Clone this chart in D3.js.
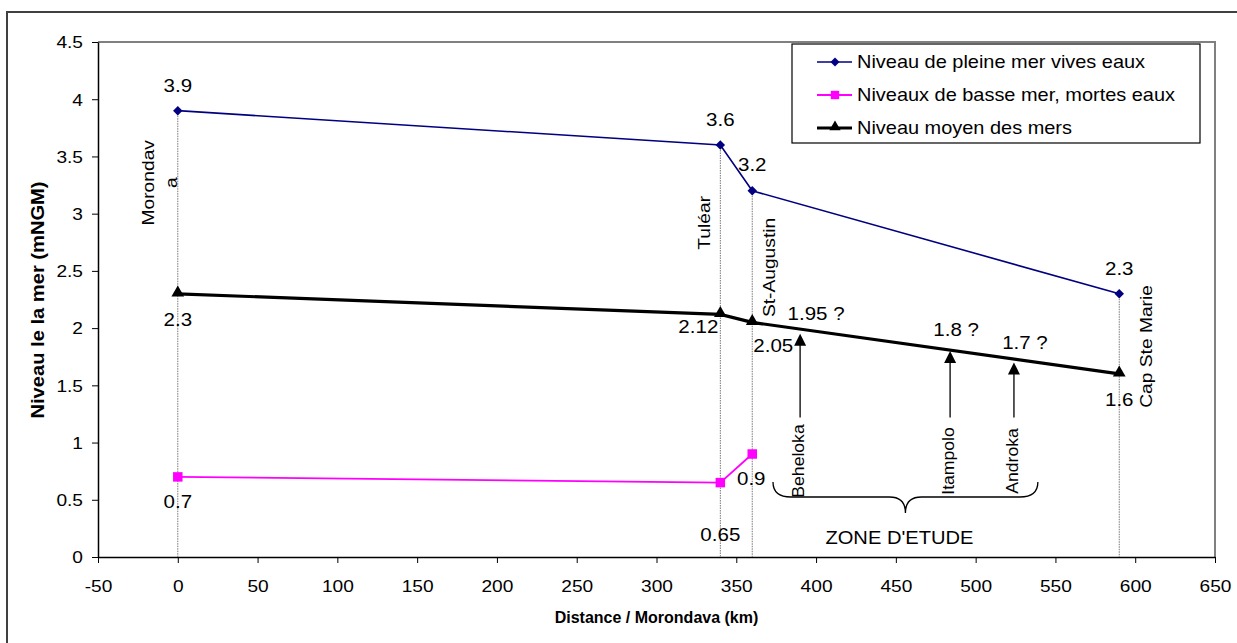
<!DOCTYPE html>
<html>
<head>
<meta charset="utf-8">
<script src="https://cdn.jsdelivr.net/npm/d3@7"></script>
<style>
  body { margin: 0; background: #fff; }
  svg { display: block; }
  text { font-family: "Liberation Sans", Arial, sans-serif; fill: #000; }
</style>
</head>
<body>
<svg id="chart" width="1237" height="643"></svg>
<script>
// Stations along the coast (distance from Morondava, km)
const siteKm = [0, 340, 360, 590];
const siteNames = [["Morondav", "a"], ["Tuléar"], ["St-Augustin"], ["Cap Ste Marie"]];

// Water levels (m NGM)
const pleineMer = [3.9, 3.6, 3.2, 2.3];          // high water, spring tides
const basseKm = [0, 340, 360];
const basseMer = [0.7, 0.65, 0.9];               // low water, neap tides
const niveauMoyen = [2.3, 2.12, 2.05, 1.6];      // mean sea level

// Study-zone sites and their estimated mean level
const zoneSites = ["Beheloka", "Itampolo", "Androka"];
const zoneKm = [390, 484, 524];
const zoneNiveau = [1.95, 1.8, 1.7];
const zoneNiveauText = ["1.95 ?", "1.8 ?", "1.7 ?"];

const seriesNames = [
  "Niveau de pleine mer vives eaux",
  "Niveaux de basse mer, mortes eaux",
  "Niveau moyen des mers"
];

const xTicks = d3.range(-50, 651, 50);
const yTicks = d3.range(0, 4.51, 0.5);

// ---- layout ----
const plot = { left: 98, right: 1215, top: 42, bottom: 557 };
const x = d3.scaleLinear().domain([-50, 650]).range([plot.left, plot.right]);
const y = d3.scaleLinear().domain([0, 4.5]).range([plot.bottom, plot.top]);

const WIDE = 1.14;   // the chart's typeface runs wider than Arial metrics

const pleineLabelOffsets = [[0, -25], [0, -25], [0, -26], [0, -25]];
const moyenLabelOffsets = [[0, 26], [-22, 13], [21, 24], [0, 26]];
const basseLabelOffsets = [[0, 25], [0, 52], [-1, 25]];
const siteLabelPos = [
  { dx: -29, lineGap: 23, v: 3.27 },
  { dx: -16, lineGap: 0, v: 2.92 },
  { dx: 17, lineGap: 0, v: 2.53 },
  { dx: 27, lineGap: 0, v: 1.84 }
];
const zoneLabelOffsets = [[16, -20], [6, -21], [11, -20]];
const arrowBase = 1.22;
const braceKm = [373, 539];

const svg = d3.select("#chart");

// text helper: centred label, optional rotation and widening
function label(parent, px, py, str, o = {}) {
  const t = parent.append("text")
    .attr("transform", `translate(${px},${py})` + (o.rotate ? ` rotate(${o.rotate})` : "") +
                       ` scale(${o.wide ?? WIDE},1)`)
    .attr("text-anchor", o.anchor || "middle")
    .attr("dominant-baseline", "central")
    .attr("font-size", o.size || 18)
    .text(str);
  if (o.bold) t.attr("font-weight", "bold");
  return t;
}

// outer chart frame
svg.append("rect")
  .attr("x", 7).attr("y", 12).attr("width", 1240).attr("height", 650)
  .attr("fill", "none").attr("stroke", "#404040").attr("stroke-width", 2);

// plot area frame (top/right in grey)
svg.append("path")
  .attr("d", `M${plot.left},${plot.top}H${plot.right}V${plot.bottom}`)
  .attr("fill", "none").attr("stroke", "#808080").attr("stroke-width", 2);

// axes
const yAxis = svg.append("g")
  .attr("transform", `translate(${plot.left},0)`)
  .call(d3.axisLeft(y).tickValues(yTicks).tickSize(6).tickSizeOuter(0).tickFormat(d => String(d)));
const xAxis = svg.append("g")
  .attr("transform", `translate(0,${plot.bottom})`)
  .call(d3.axisBottom(x).tickValues(xTicks).tickSize(6).tickSizeOuter(0).tickFormat(d => String(d)));

[yAxis, xAxis].forEach(g => {
  g.select(".domain").attr("stroke", "#000").attr("stroke-width", 1.5);
  g.selectAll(".tick line").attr("stroke", "#000").attr("stroke-width", 1);
  g.selectAll(".tick text").attr("font-size", 16.5).attr("fill", "#000")
    .attr("font-family", '"Liberation Sans", Arial, sans-serif');
});
yAxis.selectAll(".tick text").attr("x", 0).attr("dy", "0.35em")
  .attr("transform", "translate(-15,0) scale(1.16,1)");
xAxis.selectAll(".tick text").attr("y", 0).attr("dy", "0.35em")
  .attr("transform", "translate(0,29) scale(1.16,1)");

// axis titles
label(svg, (plot.left + plot.right) / 2, 617, "Distance / Morondava (km)", { size: 16, bold: true, wide: 1 });
label(svg, 37, 300, "Niveau le la mer (mNGM)", { size: 19, bold: true, rotate: -90, wide: 1.06 });

// dotted drop lines at each station
svg.append("g").selectAll("line").data(siteKm).join("line")
  .attr("x1", d => x(d)).attr("x2", d => x(d))
  .attr("y1", (d, i) => y(pleineMer[i])).attr("y2", y(0))
  .attr("stroke", "#777").attr("stroke-width", 1).attr("stroke-dasharray", "1.5,1");

// station names (rotated)
siteNames.forEach((lines, i) => {
  const p = siteLabelPos[i];
  lines.forEach((ln, j) => {
    label(svg, x(siteKm[i]) + p.dx + j * p.lineGap, y(p.v), ln, { size: 17, rotate: -90, wide: 1.13 });
  });
});

// series
const line = d3.line().x(d => x(d[0])).y(d => y(d[1]));
const pleinePts = siteKm.map((k, i) => [k, pleineMer[i]]);
const bassePts = basseKm.map((k, i) => [k, basseMer[i]]);
const moyenPts = siteKm.map((k, i) => [k, niveauMoyen[i]]);

svg.append("path").attr("d", line(bassePts))
  .attr("fill", "none").attr("stroke", "#ff00ff").attr("stroke-width", 1.8);
svg.append("path").attr("d", line(pleinePts))
  .attr("fill", "none").attr("stroke", "#000080").attr("stroke-width", 1.6);
svg.append("path").attr("d", line(moyenPts))
  .attr("fill", "none").attr("stroke", "#000").attr("stroke-width", 3.2);

const square = d3.symbol().type(d3.symbolSquare).size(90);
const triangle = d3.symbol().type(d3.symbolTriangle).size(70);

svg.append("g").selectAll("path").data(pleinePts).join("path")
  .attr("transform", d => `translate(${x(d[0])},${y(d[1])}) rotate(45)`)
  .attr("d", d3.symbol().type(d3.symbolSquare).size(45)).attr("fill", "#000080");
svg.append("g").selectAll("path").data(bassePts).join("path")
  .attr("transform", d => `translate(${x(d[0])},${y(d[1])})`)
  .attr("d", square).attr("fill", "#ff00ff");
svg.append("g").selectAll("path").data(moyenPts).join("path")
  .attr("transform", d => `translate(${x(d[0])},${y(d[1]) - 1})`)
  .attr("d", triangle).attr("fill", "#000");

// value labels
function valueLabels(pts, offsets) {
  const g = svg.append("g");
  pts.forEach((d, i) => {
    label(g, x(d[0]) + offsets[i][0], y(d[1]) + offsets[i][1], String(d[1]), { size: 18 });
  });
}
valueLabels(pleinePts, pleineLabelOffsets);
valueLabels(moyenPts, moyenLabelOffsets);
valueLabels(bassePts, basseLabelOffsets);

// study-zone arrows
const zone = svg.append("g");
zoneKm.forEach((k, i) => {
  const cx = x(k), tip = y(zoneNiveau[i]);
  zone.append("line")
    .attr("x1", cx).attr("x2", cx).attr("y1", y(arrowBase)).attr("y2", tip + 10)
    .attr("stroke", "#222").attr("stroke-width", 1.5);
  zone.append("path")
    .attr("d", `M${cx},${tip}L${cx - 6},${tip + 12}L${cx + 6},${tip + 12}Z`)
    .attr("fill", "#000");
  label(zone, cx + zoneLabelOffsets[i][0], tip + zoneLabelOffsets[i][1], zoneNiveauText[i], { size: 18 });
  label(zone, cx - 1, 461, zoneSites[i], { size: 16, rotate: -90, wide: 1.1 });
});

// curly brace under the study zone
const bx0 = x(braceKm[0]), bx1 = x(braceKm[1]), bm = (bx0 + bx1) / 2;
const bTop = 482, bMid = 497, bTip = 513;
zone.append("path")
  .attr("d", `M${bx0},${bTop} Q${bx0},${bMid} ${bx0 + 18},${bMid} L${bm - 16},${bMid}` +
             ` Q${bm},${bMid} ${bm},${bTip} Q${bm},${bMid} ${bm + 16},${bMid}` +
             ` L${bx1 - 18},${bMid} Q${bx1},${bMid} ${bx1},${bTop}`)
  .attr("fill", "none").attr("stroke", "#000").attr("stroke-width", 1.3);
label(zone, bm - 6, 537, "ZONE D'ETUDE", { size: 19, wide: 1.06 });

// legend
const lg = svg.append("g").attr("transform", "translate(792,44)");
lg.append("rect").attr("width", 408).attr("height", 99)
  .attr("fill", "#fff").attr("stroke", "#000").attr("stroke-width", 1.2);
const legendRows = [18, 51, 84];
const legendStyle = [
  { stroke: "#000080", w: 1.6, sym: "diamond" },
  { stroke: "#ff00ff", w: 1.8, sym: "square" },
  { stroke: "#000", w: 3.2, sym: "triangle" }
];
seriesNames.forEach((name, i) => {
  const ry = legendRows[i], st = legendStyle[i];
  lg.append("line").attr("x1", 25).attr("x2", 60).attr("y1", ry).attr("y2", ry)
    .attr("stroke", st.stroke).attr("stroke-width", st.w);
  const m = lg.append("path").attr("fill", st.stroke);
  if (st.sym === "diamond") m.attr("d", d3.symbol().type(d3.symbolSquare).size(40)).attr("transform", `translate(43,${ry}) rotate(45)`);
  if (st.sym === "square") m.attr("d", d3.symbol().type(d3.symbolSquare).size(70)).attr("transform", `translate(43,${ry})`);
  if (st.sym === "triangle") m.attr("d", d3.symbol().type(d3.symbolTriangle).size(55)).attr("transform", `translate(43,${ry - 1})`);
  label(lg, 65, ry, name, { size: 17.5, anchor: "start" });
});
</script>
</body>
</html>
